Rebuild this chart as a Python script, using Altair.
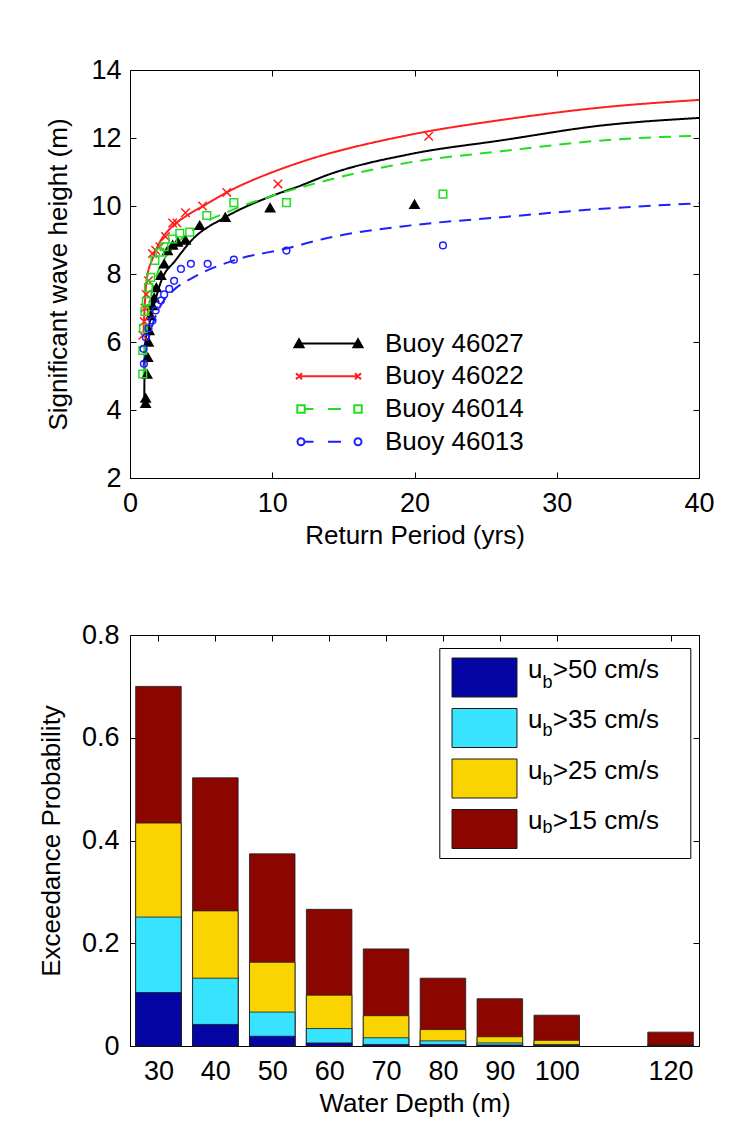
import altair as alt
import pandas as pd

FONT = "Liberation Sans"

# ---------------- Top chart: return period vs significant wave height ----------------
series = ["Buoy 46027", "Buoy 46022", "Buoy 46014", "Buoy 46013"]
series_colors = ["#000000", "#ff1f1f", "#22dd22", "#1f1fff"]

# fitted curves
fit_46027_x = [1.0, 1.05, 1.4, 1.76, 2.2, 3.2, 4.35, 6.7, 10.0, 12.0, 13.8, 19.75, 26.1, 33.2, 40.0]
fit_46027_y = [4.2, 5.9, 6.6, 7.2, 7.8, 8.4, 9.0, 9.67, 10.3, 10.6, 10.9, 11.53, 11.93, 12.37, 12.59]
fit_46022_x = [0.95, 1.16, 1.63, 2.1, 2.8, 4.0, 5.15, 6.8, 10.3, 12.0, 19.75, 26.1, 33.2, 40.0]
fit_46022_y = [6.3, 7.8, 8.5, 8.94, 9.33, 9.72, 10.0, 10.4, 11.04, 11.29, 12.1, 12.53, 12.9, 13.12]
fit_46014_x = [0.95, 1.1, 1.5, 2.0, 3.0, 5.0, 7.0, 10.0, 12.9, 19.75, 26.1, 33.2, 40.0]
fit_46014_y = [5.0, 6.3, 7.4, 8.1, 8.75, 9.45, 9.85, 10.3, 10.65, 11.29, 11.61, 11.93, 12.07]
fit_46013_x = [0.95, 1.2, 1.5, 2.0, 3.0, 4.45, 7.3, 11.0, 13.8, 19.75, 26.1, 33.2, 40.0]
fit_46013_y = [5.3, 5.9, 6.4, 6.95, 7.5, 7.9, 8.4, 8.75, 9.05, 9.43, 9.67, 9.92, 10.08]

# empirical points
obs_46027_x = [1.1, 1.1, 1.2, 1.25, 1.3, 1.35, 1.45, 1.58, 1.7, 1.85, 2.17, 2.4, 2.64, 3.0, 3.35, 3.9, 4.9, 6.7, 9.85, 20.0]
obs_46027_y = [4.2, 4.35, 5.06, 5.55, 6.0, 6.34, 6.78, 7.07, 7.3, 7.6, 7.96, 8.3, 8.69, 8.85, 8.94, 9.0, 9.43, 9.67, 9.95, 10.05]
obs_46022_x = [0.9, 1.0, 1.05, 1.15, 1.3, 1.58, 1.8, 2.1, 2.5, 3.0, 3.3, 3.9, 5.1, 6.8, 10.4, 21.0]
obs_46022_y = [6.2, 6.6, 7.0, 7.4, 7.8, 8.6, 8.7, 8.8, 9.1, 9.5, 9.5, 9.8, 10.0, 10.4, 10.65, 12.05]
obs_46014_x = [0.9, 0.9, 0.95, 1.05, 1.15, 1.3, 1.45, 1.75, 2.1, 2.4, 3.0, 3.5, 4.2, 5.4, 7.3, 11.0, 22.0]
obs_46014_y = [5.06, 5.75, 6.4, 6.9, 7.2, 7.6, 7.9, 8.4, 8.64, 8.8, 9.03, 9.2, 9.23, 9.72, 10.1, 10.1, 10.35]
obs_46013_x = [0.98, 0.95, 1.11, 1.3, 1.58, 1.8, 2.17, 2.4, 2.76, 3.1, 3.58, 4.28, 5.46, 7.3, 11.0, 22.0]
obs_46013_y = [5.36, 5.8, 6.14, 6.4, 6.63, 6.93, 7.22, 7.4, 7.56, 7.8, 8.15, 8.3, 8.3, 8.42, 8.69, 8.84]

top_x_ticks = [0, 10, 20, 30, 40]
top_y_ticks = [2, 4, 6, 8, 10, 12, 14]

# ---------------- Bottom chart: exceedance probability vs depth ----------------
depths = [30, 40, 50, 60, 70, 80, 90, 100, 120]
p_ub15 = [0.700, 0.522, 0.374, 0.266, 0.189, 0.132, 0.092, 0.060, 0.027]
p_ub25 = [0.434, 0.263, 0.163, 0.099, 0.059, 0.032, 0.018, 0.011, 0.002]
p_ub35 = [0.251, 0.132, 0.066, 0.034, 0.016, 0.010, 0.006, 0.003, 0.001]
p_ub50 = [0.104, 0.042, 0.019, 0.006, 0.003, 0.003, 0.002, 0.001, 0.000]
# "u" + room for the subscript "b" (drawn by a second legend) + threshold
thr_labels = ["u\u2009\u2009>50 cm/s", "u\u2009\u2009>35 cm/s",
              "u\u2009\u2009>25 cm/s", "u\u2009\u2009>15 cm/s"]
thr_keys = ["s50", "s35", "s25", "s15"]
thr_colors = ["#0505a3", "#38e3ff", "#fad400", "#8c0600"]
bot_y_ticks = [0, 0.2, 0.4, 0.6, 0.8]

# ---------------- tables ----------------
fit_rows = []
for s, xs_, ys_ in zip(series, [fit_46027_x, fit_46022_x, fit_46014_x, fit_46013_x],
                       [fit_46027_y, fit_46022_y, fit_46014_y, fit_46013_y]):
    for a, b in zip(xs_, ys_):
        fit_rows.append({"series": s, "x": a, "y": b})
fit_df = pd.DataFrame(fit_rows)

obs_rows = []
for s, xs_, ys_ in zip(series, [obs_46027_x, obs_46022_x, obs_46014_x, obs_46013_x],
                       [obs_46027_y, obs_46022_y, obs_46014_y, obs_46013_y]):
    for a, b in zip(xs_, ys_):
        obs_rows.append({"series": s, "x": a, "y": b})
obs_df = pd.DataFrame(obs_rows)

bar_rows = []
# draw order: largest (15 cm/s) first, smallest last
for lab, key, vals in [(thr_labels[3], thr_keys[3], p_ub15), (thr_labels[2], thr_keys[2], p_ub25),
                       (thr_labels[1], thr_keys[1], p_ub35), (thr_labels[0], thr_keys[0], p_ub50)]:
    for d, v in zip(depths, vals):
        bar_rows.append({"depth": d, "thr": lab, "sub": key, "value": v})
bar_df = pd.DataFrame(bar_rows)

# ---------------- helpers ----------------
W1, H1 = 569, 408
W2, H2 = 569, 411
TICK_FS = 27
TITLE_FS = 26
LEG_FS = 26


def tick_axis(values, orient, offset):
    return alt.Axis(values=values, orient=orient, offset=offset, labels=False, ticks=True,
                    tickSize=6, tickColor="black", tickWidth=1, domain=False, grid=False, title=None)


def tri(c):
    return f"M{c-0.9},0.75L{c+0.9},0.75L{c},-0.85Z"


def xmark(c):
    return f"M{c-0.6},-0.6L{c+0.6},0.6M{c-0.6},0.6L{c+0.6},-0.6"


def sq(c):
    return f"M{c-0.75},-0.75H{c+0.75}V0.75H{c-0.75}Z"


def circ(c):
    return f"M{c+0.7},0A0.7,0.7,0,1,1,{c-0.7},0A0.7,0.7,0,1,1,{c+0.7},0"


legend_paths = [
    "M-11.8,0L0,0" + tri(-11.8) + tri(0),
    "M-11.8,0L0,0" + xmark(-11.8) + xmark(0),
    sq(-11.4) + "M-10.65,0L-8.9,0M-6,0L-3.4,0" + sq(0),
    circ(-11.4) + "M-10.7,0L-8.9,0M-6,0L-3.4,0" + circ(0),
]
point_shapes = ["triangle-up", "M-1,-1L1,1M-1,1L1,-1", "square", "circle"]

txs = alt.Scale(domain=[0, 40], nice=False, zero=False, padding=0)
tys = alt.Scale(domain=[2, 14], nice=False, zero=False, padding=0)

stroke_scale = alt.Scale(domain=series, range=series_colors)
fill_scale = alt.Scale(domain=series, range=["#000000", "transparent", "transparent", "transparent"])

main_tx = alt.Axis(values=top_x_ticks, tickSize=0, labelPadding=12, title="Return Period (yrs)",
                   titlePadding=6, domain=False, grid=False, labelFlush=False, labelOverlap=False,
                   labelFontSize=TICK_FS, titleFontSize=TITLE_FS)
main_ty = alt.Axis(values=top_y_ticks, tickSize=0, labelPadding=9, title="Significant wave height (m)",
                   titlePadding=19.5, domain=False, grid=False, labelFlush=False, labelOverlap=False,
                   labelFontSize=TICK_FS, titleFontSize=TITLE_FS)

lines = alt.Chart(fit_df).mark_line(strokeWidth=2, interpolate="monotone").encode(
    x=alt.X("x:Q", scale=txs, axis=main_tx),
    y=alt.Y("y:Q", scale=tys, axis=main_ty),
    stroke=alt.Stroke("series:N", scale=stroke_scale, legend=None),
    strokeDash=alt.StrokeDash("series:N", scale=alt.Scale(domain=series, range=[[1, 0], [1, 0], [12, 8], [12, 8]]), legend=None),
    detail="series:N",
)

points = alt.Chart(obs_df).mark_point(strokeWidth=1.5, opacity=1).encode(
    x=alt.X("x:Q", scale=txs, axis=tick_axis(top_x_ticks, "top", -H1)),
    y=alt.Y("y:Q", scale=tys, axis=tick_axis(top_y_ticks, "right", -W1)),
    stroke=alt.Stroke("series:N", scale=stroke_scale, legend=None),
    fill=alt.Fill("series:N", scale=fill_scale, legend=None),
    shape=alt.Shape("series:N", scale=alt.Scale(domain=series, range=point_shapes), legend=None),
    size=alt.Size("series:O", scale=alt.Scale(domain=series, range=[85, 45, 60, 55]), legend=None),
)

top_legend = dict(title=None, orient="none", legendX=215, legendY=260.6, padding=0, symbolSize=100,
                  symbolStrokeWidth=2, labelFontSize=LEG_FS, labelFont=FONT, labelColor="black",
                  labelOffset=14, rowPadding=6.7, symbolOffset=0)

legend_layer = alt.Chart(obs_df).transform_filter("datum.x < -100").mark_point(opacity=1).encode(
    x=alt.X("x:Q", scale=txs, axis=tick_axis(top_x_ticks, "bottom", -H1)),
    y=alt.Y("y:Q", scale=tys, axis=tick_axis(top_y_ticks, "left", -W1)),
    stroke=alt.Stroke("series:N", scale=stroke_scale, legend=alt.Legend(**top_legend)),
    fill=alt.Fill("series:N", scale=fill_scale, legend=alt.Legend(**top_legend)),
    shape=alt.Shape("series:N", scale=alt.Scale(domain=series, range=legend_paths), legend=alt.Legend(**top_legend)),
)

top = alt.layer(lines, points, legend_layer).resolve_scale(
    stroke="independent", fill="independent", shape="independent", size="independent"
).resolve_axis(x="independent", y="independent").resolve_legend(
    stroke="independent", fill="independent", shape="independent"
).properties(width=W1, height=H1)

# ---------------- bottom chart ----------------
bxs = alt.Scale(domain=[25, 125], nice=False, zero=False, padding=0)
bys = alt.Scale(domain=[0, 0.8], nice=False, padding=0)

main_bx = alt.Axis(values=depths, tickSize=0, labelPadding=12, title="Water Depth (m)", titlePadding=6,
                   domain=False, grid=False, labelFlush=False, labelOverlap=False, format="d",
                   labelFontSize=TICK_FS, titleFontSize=TITLE_FS)
main_by = alt.Axis(values=bot_y_ticks, tickSize=0, labelPadding=11, title="Exceedance Probability",
                   titlePadding=17, domain=False, grid=False, labelFlush=False, labelOverlap=False,
                   labelExpr="datum.value == 0 ? '0' : format(datum.value, '.1f')",
                   labelFontSize=TICK_FS, titleFontSize=TITLE_FS)

# legend coordinates are relative to the top panel's plot origin
BOT_OFFSET = 567
swatch = "M-1.354,-0.8125H1.354V0.8125H-1.354Z"
# legend A: coloured swatches and "u ... cm/s" labels (no box)
legend_a = alt.Legend(title=None, orient="none", legendX=309.3, legendY=BOT_OFFSET + 8, padding=8,
                      symbolType=swatch, symbolSize=2304, symbolStrokeColor="#1a1a1a", symbolStrokeWidth=1,
                      symbolOffset=12.7, labelOffset=19, labelFontSize=LEG_FS, labelFont=FONT,
                      labelColor="black", labelBaseline="alphabetic", rowPadding=4.5, zindex=2)
# legend B: subscript "b" labels; also carries the white framed box
legend_b = alt.Legend(title=None, orient="none", legendX=309.3, legendY=BOT_OFFSET + 11, padding=10,
                      fillColor="white", strokeColor="black", cornerRadius=0,
                      symbolType=swatch, symbolSize=2304, symbolStrokeWidth=1, symbolOpacity=0,
                      symbolOffset=173.8, labelOffset={"expr": "-129.6"}, labelFontSize=18, labelFont=FONT,
                      labelColor="black", labelBaseline="middle", rowPadding=4.5,
                      labelExpr="'b'", zindex=1)

bars = alt.Chart(bar_df).transform_calculate(
    x1="datum.depth - 4", x2="datum.depth + 4", y0="0"
).mark_bar(strokeWidth=0.8, opacity=1).encode(
    x=alt.X("x1:Q", scale=bxs, axis=main_bx),
    x2="x2:Q",
    y=alt.Y("value:Q", scale=bys, axis=main_by, stack=None),
    y2="y0:Q",
    fill=alt.Fill("thr:N", scale=alt.Scale(domain=thr_labels, range=thr_colors), legend=legend_a),
    stroke=alt.Stroke("sub:N", scale=alt.Scale(domain=thr_keys, range=["#1a1a1a"] * 4), legend=legend_b),
)

helper1 = alt.Chart(bar_df).transform_filter("datum.depth < 0").mark_point().encode(
    x=alt.X("depth:Q", scale=bxs, axis=tick_axis(depths, "top", -H2)),
    y=alt.Y("value:Q", scale=bys, axis=tick_axis(bot_y_ticks, "right", -W2)),
)
helper2 = alt.Chart(bar_df).transform_filter("datum.depth < 0").mark_point().encode(
    x=alt.X("depth:Q", scale=bxs, axis=tick_axis(depths, "bottom", -H2)),
    y=alt.Y("value:Q", scale=bys, axis=tick_axis(bot_y_ticks, "left", -W2)),
)

bottom = alt.layer(bars, helper1, helper2).resolve_axis(
    x="independent", y="independent"
).properties(width=W2, height=H2)

chart = alt.vconcat(top, bottom, spacing=71).configure(
    padding={"left": 29, "top": 47, "right": 10, "bottom": 5},
    background="white",
    font=FONT,
).configure_view(
    stroke="black", strokeWidth=1
).configure_axis(
    labelFont=FONT, labelFontSize=TICK_FS, labelColor="black",
    titleFont=FONT, titleFontSize=TITLE_FS, titleFontWeight="normal", titleColor="black",
)

chart.save("out.html", embed_options={"renderer": "svg", "actions": False})
